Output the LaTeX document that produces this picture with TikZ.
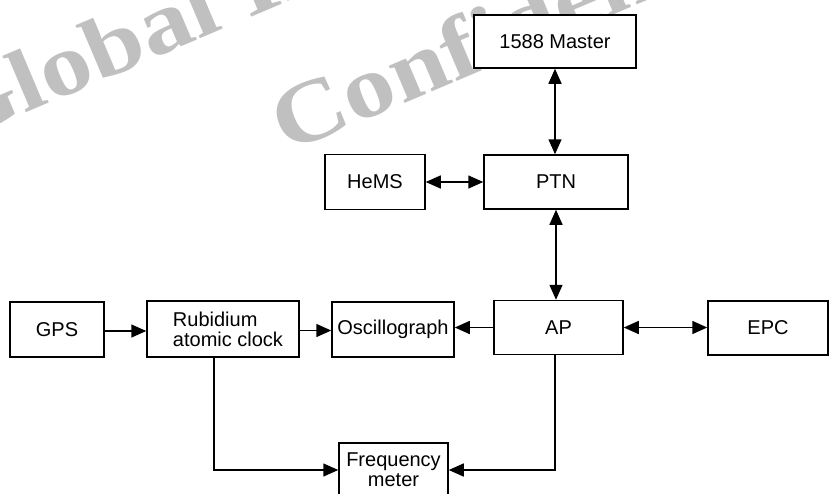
\documentclass[tikz,border=0pt]{standalone}
\usepackage{fontspec}
\setmainfont{Liberation Sans}
\newfontfamily\wmfont{Liberation Serif}
\usetikzlibrary{arrows.meta}
\definecolor{wmgray}{RGB}{192,192,192}
\begin{document}
\begin{tikzpicture}[x=1pt,y=-1pt,
  box/.style={draw, line width=1.5pt, fill=white, inner sep=0pt, font=\fontsize{20}{20}\selectfont},
  conn/.style={line width=1.5pt},
  tip/.style={-{Triangle[length=15pt,width=13pt]}},
  both/.style={{Triangle[length=15pt,width=13pt]}-{Triangle[length=15pt,width=13pt]}},
  wm/.style={font=\wmfont\bfseries\fontsize{88}{88}\selectfont, text=wmgray, rotate=23, anchor=base west, inner sep=0pt}
]
\useasboundingbox (0,0) rectangle (829,493);
\begin{scope}
\clip (0,0) rectangle (829,493);
\node[wm] (wmA) at (-49,145) {\scalebox{1.17}[1]{Global Internal}};
\node[wm] (wmB) at (286,154) {\scalebox{1.17}[1]{Confidential}};

\node[box, minimum width=162pt, minimum height=53pt] (master) at (555,41.5) {1588 Master};
\node[box, minimum width=144pt, minimum height=54pt] (ptn) at (556,182) {PTN};
\node[box, minimum width=100pt, minimum height=55pt] (hems) at (375,182) {HeMS};
\node[box, minimum width=129pt, minimum height=54pt] (ap) at (558.5,327.5) {AP};
\node[box, minimum width=120pt, minimum height=54pt] (epc) at (768,328) {EPC};
\node[box, minimum width=94pt, minimum height=55pt] (gps) at (57,329.5) {GPS};
\node[box, minimum width=152pt, minimum height=56pt, align=left] (rub) at (223,329) {\hspace*{10pt}Rubidium\\\hspace*{10pt}atomic clock};
\node[box, minimum width=122pt, minimum height=55pt] (osc) at (393,329.5) {Oscillograph};
\node[box, minimum width=109pt, minimum height=54pt, align=center] (freq) at (393.5,470) {Frequency\\meter};

\draw[conn,both] (master.south) -- (master.south |- ptn.north);
\draw[conn,both] (ptn.south) -- (ptn.south |- ap.north);
\draw[conn,both] (hems.east) -- (ptn.west);
\draw[conn,both] (ap.east) -- (ap.east -| epc.west);
\draw[conn,tip] (ap.west) -- (ap.west -| osc.east);
\draw[conn,tip] ([yshift=-1.5pt]gps.east) -- ([yshift=-1.5pt]gps.east -| rub.west);
\draw[conn,tip] ([yshift=-1.5pt]rub.east) -- ([yshift=-1.5pt]rub.east -| osc.west);
\draw[conn,tip] ([xshift=-9pt]rub.south) |- (freq.west);
\draw[conn,tip] ([xshift=-3.5pt]ap.south) |- (freq.east);
\end{scope}
\end{tikzpicture}
\end{document}
